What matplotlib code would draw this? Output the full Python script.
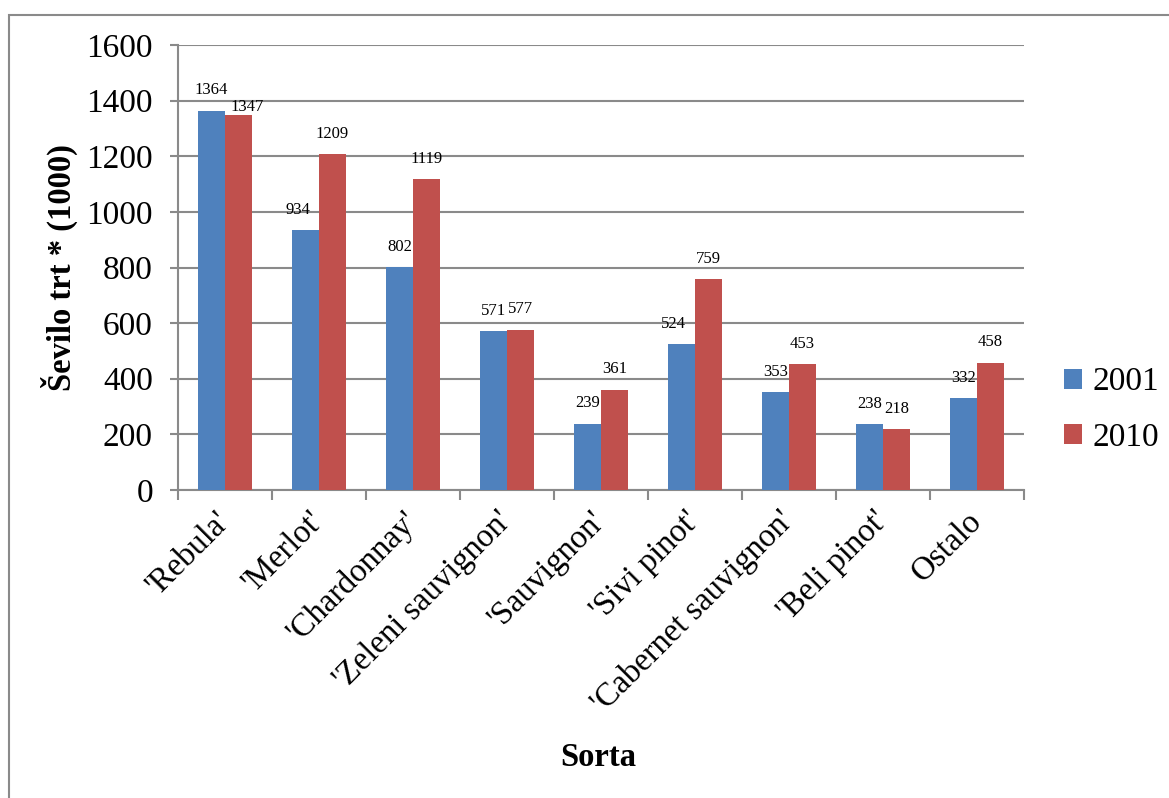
import matplotlib
matplotlib.use("Agg")
import matplotlib.pyplot as plt
import numpy as np
from matplotlib.patches import Rectangle

# data
sorte = ["'Rebula'", "'Merlot'", "'Chardonnay'", "'Zeleni sauvignon'", "'Sauvignon'",
         "'Sivi pinot'", "'Cabernet sauvignon'", "'Beli pinot'", "Ostalo"]
vals_2001 = [1364, 934, 802, 571, 239, 524, 353, 238, 332]
vals_2010 = [1347, 1209, 1119, 577, 361, 759, 453, 218, 458]
yticks = [0, 200, 400, 600, 800, 1000, 1200, 1400, 1600]

BLUE = "#4F81BD"
RED = "#C0504D"
GRID = "#8A8A8A"

plt.rcParams["font.family"] = ["Liberation Serif", "DejaVu Serif"]

fig = plt.figure(figsize=(11.69, 7.98), dpi=100)
ax = fig.add_axes([178 / 1169, 1 - 490 / 798, (1024 - 178) / 1169, (490 - 45) / 798])

x = np.arange(len(sorte))
w = 0.287
b1 = ax.bar(x - w / 2, vals_2001, w, color=BLUE, label="2001", zorder=3)
b2 = ax.bar(x + w / 2, vals_2010, w, color=RED, label="2010", zorder=3)

# data labels (Excel nudged a few of them sideways)
nudge_2001 = {1: -8, 5: -8}
nudge_2010 = {0: (9, 12)}
for i, v in enumerate(vals_2001):
    dx = nudge_2001.get(i, 0)
    ax.annotate(str(v), (x[i] - w / 2, v), xytext=(dx * 0.72, 14.5), textcoords="offset points",
                ha="center", va="center", fontsize=12)
for i, v in enumerate(vals_2010):
    dx, dy = nudge_2010.get(i, (0, 0))
    ax.annotate(str(v), (x[i] + w / 2, v), xytext=(dx * 0.72, 14.5 - dy * 0.72),
                textcoords="offset points", ha="center", va="center", fontsize=12)

ax.set_xlim(-0.5, len(sorte) - 0.5)
ax.set_ylim(0, 1600)
ax.set_yticks(yticks)
ax.tick_params(axis="y", labelsize=24, length=6, width=1.5, color=GRID, pad=12)
ax.yaxis.grid(True, color=GRID, linewidth=1.5, zorder=0)
ax.set_axisbelow(True)

ax.set_xticks(x)
ax.set_xticklabels(sorte, rotation=45, ha="right", va="center", rotation_mode="anchor", fontsize=23.5)
ax.set_xticks(np.arange(-0.5, len(sorte)), minor=True)
ax.tick_params(axis="x", which="major", length=0, pad=19)
ax.tick_params(axis="x", which="minor", length=7, width=1.5, color=GRID)

for s in ["top", "right"]:
    ax.spines[s].set_visible(False)
for s in ["left", "bottom"]:
    ax.spines[s].set_color(GRID)
    ax.spines[s].set_linewidth(1.5)

ax.set_ylabel("Ševilo trt * (1000)", fontsize=23.5, fontweight="bold", labelpad=6)
fig.text(598 / 1169, 1 - 757 / 798, "Sorta", ha="center", va="center", fontsize=23.5, fontweight="bold")

fig.legend(handles=[b1, b2], loc="center left", bbox_to_anchor=(1034 / 1169, 1 - 410 / 798),
           frameon=False, fontsize=24, handlelength=0.55, handleheight=0.55, handletextpad=0.3,
           labelspacing=0.75)

# chart border like the Excel frame
fig.patches.append(Rectangle((9 / 1169, -0.05), 1.2, 1 - 15 / 798 + 0.05, transform=fig.transFigure,
                             fill=False, edgecolor=GRID, linewidth=1.5))

fig.savefig("out.png", dpi=100)
